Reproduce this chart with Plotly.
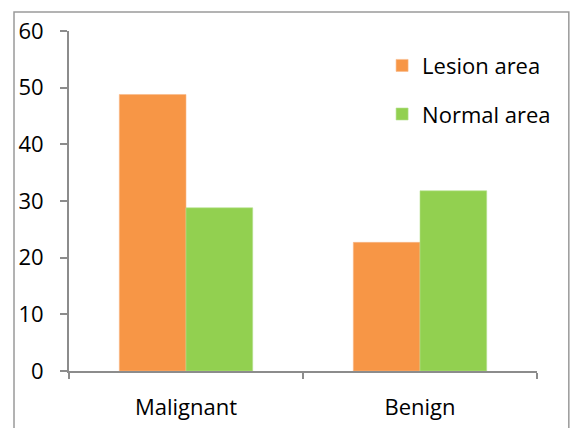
import plotly.graph_objects as go

categories = ["Malignant", "Benign"]
lesion_area = [48.8, 22.7]
normal_area = [28.8, 31.8]
y_ticks = [0, 10, 20, 30, 40, 50, 60]

FONT = "Open Sans"
SIZE = 22
AXIS_GRAY = "#8c8c8c"

fig = go.Figure()
fig.add_trace(go.Bar(
    x=categories, y=lesion_area, name="Lesion area",
    marker=dict(color="#F79646", line=dict(color="#F9B88A", width=0.6)),
    legendgroup="a",
))
fig.add_trace(go.Bar(
    x=categories, y=normal_area, name="Normal area",
    marker=dict(color="#92D050", line=dict(color="#B5E08F", width=0.6)),
    legendgroup="b",
))

fig.update_layout(
    width=571, height=428,
    margin=dict(l=69, r=34, t=31, b=57),
    paper_bgcolor="white", plot_bgcolor="white",
    barmode="group", bargap=0.43, bargroupgap=0,
    font=dict(family=FONT, size=SIZE, color="#000000"),
    showlegend=True,
    legend=dict(
        x=0.669, y=0.96, xanchor="left", yanchor="top",
        font=dict(family=FONT, size=SIZE, color="#000000"),
        bgcolor="rgba(0,0,0,0)", tracegroupgap=17,
        itemwidth=30,
    ),
    shapes=[dict(
        type="rect", xref="paper", yref="paper",
        x0=-0.1175, x1=1.068, y0=-0.4, y1=1.0559,
        line=dict(color="#9a9a9a", width=1.5), fillcolor="rgba(0,0,0,0)",
        layer="below",
    )],
)

fig.update_xaxes(
    type="category", range=[-0.5, 1.5], automargin=False,
    showline=True, linecolor=AXIS_GRAY, linewidth=2,
    ticks="outside", tickson="boundaries", ticklen=6, tickwidth=2, tickcolor=AXIS_GRAY,
    showgrid=False, zeroline=False,
    ticklabelstandoff=16,
    tickfont=dict(family=FONT, size=SIZE, color="#000000"),
)
fig.update_yaxes(
    range=[0, 60], tickvals=y_ticks, automargin=False,
    showline=True, linecolor=AXIS_GRAY, linewidth=2,
    ticks="outside", ticklen=7, tickwidth=2, tickcolor=AXIS_GRAY,
    showgrid=False, zeroline=False,
    ticklabelstandoff=12,
    tickfont=dict(family=FONT, size=SIZE, color="#000000"),
)

fig.write_html("out.html")
